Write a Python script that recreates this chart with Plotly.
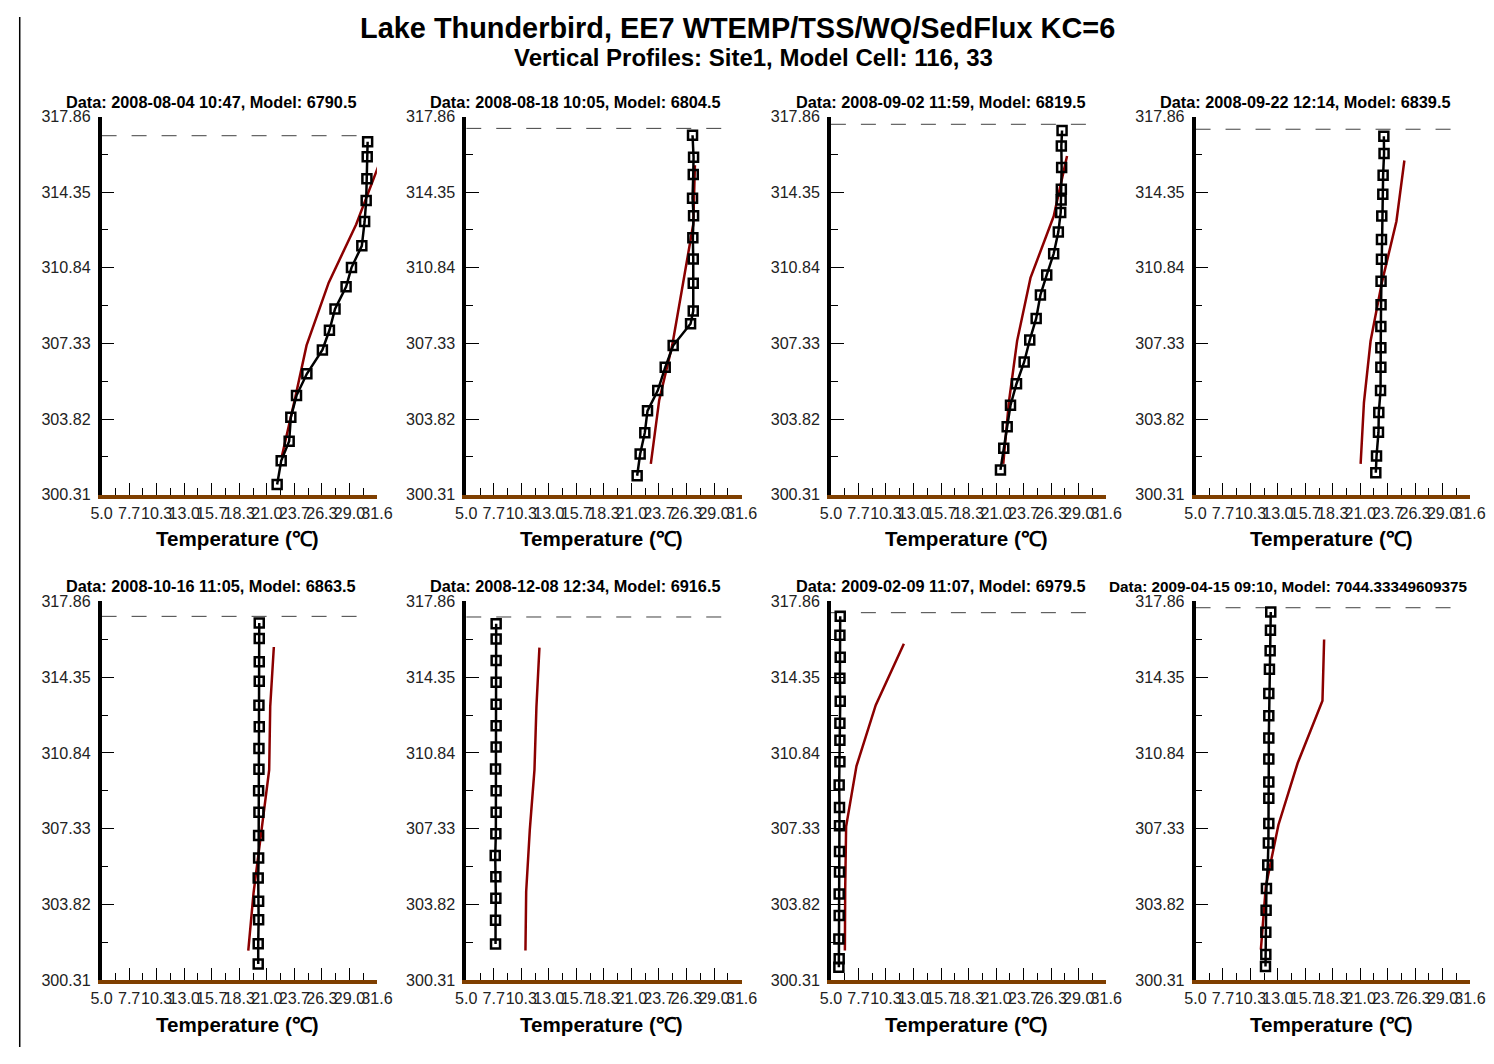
import plotly.graph_objects as go

# ---------------- data ----------------
main_title = "Lake Thunderbird, EE7 WTEMP/TSS/WQ/SedFlux KC=6"
sub_title = "Vertical Profiles: Site1, Model Cell: 116, 33"
x_title = "Temperature (\u2103)"

panel_titles = [
    "Data: 2008-08-04 10:47, Model: 6790.5",
    "Data: 2008-08-18 10:05, Model: 6804.5",
    "Data: 2008-09-02 11:59, Model: 6819.5",
    "Data: 2008-09-22 12:14, Model: 6839.5",
    "Data: 2008-10-16 11:05, Model: 6863.5",
    "Data: 2008-12-08 12:34, Model: 6916.5",
    "Data: 2009-02-09 11:07, Model: 6979.5",
    "Data: 2009-04-15 09:10, Model: 7044.33349609375",
]

x_tick_labels = ["5.0", "7.7", "10.3", "13.0", "15.7", "18.3", "21.0", "23.7", "26.3", "29.0", "31.6"]
y_tick_labels = ["300.31", "303.82", "307.33", "310.84", "314.35", "317.86"]

# water surface elevation per panel (dashed line)
surface = [316.97, 317.31, 317.50, 317.27, 317.17, 317.14, 317.34, 317.57]
surface_x = [5.0, 30.2]

# observed profiles (temperature, elevation)
obs_T1 = [30.70, 30.66, 30.63, 30.56, 30.41, 30.14, 29.14, 28.62, 27.55, 27.01, 26.33, 24.83, 23.83, 23.28, 23.12, 22.35, 21.96]
obs_E1 = [316.69, 315.99, 314.97, 313.96, 312.99, 311.86, 310.85, 309.96, 308.93, 307.94, 307.03, 305.92, 304.91, 303.90, 302.79, 301.88, 300.78]
obs_T2 = [26.86, 26.96, 26.93, 26.86, 26.96, 26.89, 26.93, 26.93, 26.93, 26.67, 24.99, 24.22, 23.50, 22.51, 22.25, 21.80, 21.51]
obs_E2 = [316.99, 315.97, 315.17, 314.07, 313.26, 312.24, 311.25, 310.12, 308.84, 308.24, 307.23, 306.22, 305.14, 304.20, 303.19, 302.20, 301.19]
obs_T3 = [27.33, 27.26, 27.29, 27.26, 27.24, 27.20, 26.97, 26.52, 25.85, 25.24, 24.83, 24.21, 23.67, 22.93, 22.35, 22.03, 21.70, 21.38]
obs_E3 = [317.21, 316.49, 315.49, 314.49, 313.99, 313.41, 312.50, 311.49, 310.51, 309.58, 308.49, 307.49, 306.47, 305.46, 304.46, 303.46, 302.46, 301.46]
obs_T4 = [23.25, 23.27, 23.18, 23.15, 23.05, 23.02, 23.02, 22.98, 22.98, 22.96, 22.96, 22.96, 22.93, 22.76, 22.73, 22.54, 22.47]
obs_E4 = [316.95, 316.15, 315.14, 314.25, 313.24, 312.15, 311.24, 310.21, 309.13, 308.11, 307.13, 306.22, 305.14, 304.12, 303.21, 302.10, 301.33]
obs_T5 = [20.23, 20.23, 20.23, 20.23, 20.20, 20.23, 20.20, 20.20, 20.17, 20.20, 20.17, 20.17, 20.13, 20.17, 20.17, 20.13, 20.13]
obs_E5 = [316.86, 316.14, 315.06, 314.16, 313.05, 312.05, 311.05, 310.08, 309.09, 308.09, 307.01, 305.97, 305.04, 303.96, 303.11, 301.99, 301.06]
obs_T6 = [7.89, 7.89, 7.89, 7.89, 7.89, 7.89, 7.89, 7.83, 7.89, 7.89, 7.86, 7.80, 7.86, 7.86, 7.83, 7.83]
obs_E6 = [316.83, 316.12, 315.12, 314.12, 313.10, 312.10, 311.11, 310.09, 309.09, 308.09, 307.09, 306.09, 305.10, 304.10, 303.08, 301.98]
obs_T7 = [5.90, 5.87, 5.90, 5.87, 5.90, 5.87, 5.87, 5.87, 5.80, 5.83, 5.83, 5.83, 5.83, 5.80, 5.80, 5.77, 5.80, 5.77]
obs_E7 = [317.18, 316.29, 315.27, 314.30, 313.24, 312.21, 311.43, 310.43, 309.35, 308.31, 307.46, 306.27, 305.32, 304.30, 303.30, 302.22, 301.30, 300.91]
obs_T8 = [12.29, 12.26, 12.23, 12.16, 12.10, 12.10, 12.10, 12.10, 12.10, 12.10, 12.10, 12.06, 12.00, 11.87, 11.84, 11.81, 11.81, 11.78]
obs_E8 = [317.37, 316.52, 315.57, 314.72, 313.59, 312.56, 311.53, 310.56, 309.49, 308.74, 307.57, 306.66, 305.65, 304.56, 303.55, 302.53, 301.50, 300.94]

# model profiles (KC=6 layer centres)
mod_T1 = [31.76, 29.59, 26.94, 24.80, 23.64, 22.41]
mod_E1 = [315.59, 312.85, 310.15, 307.24, 304.67, 302.08]
mod_T2 = [27.09, 26.93, 25.96, 24.90, 23.64, 22.83]
mod_E2 = [315.60, 312.86, 310.17, 307.25, 304.70, 301.74]
mod_T3 = [27.81, 26.52, 24.28, 22.99, 22.19, 21.65]
mod_E3 = [316.03, 313.23, 310.37, 307.45, 304.59, 301.74]
mod_T4 = [25.24, 24.47, 23.08, 21.96, 21.32, 21.00]
mod_E4 = [315.82, 313.00, 310.20, 307.43, 304.58, 301.74]
mod_T5 = [21.64, 21.29, 21.19, 20.45, 19.68, 19.17]
mod_E5 = [315.75, 312.98, 310.05, 307.27, 304.35, 301.68]
mod_T6 = [12.07, 11.78, 11.59, 11.14, 10.79, 10.72]
mod_E6 = [315.72, 312.98, 310.05, 307.27, 304.42, 301.68]
mod_T7 = [12.05, 9.33, 7.47, 6.47, 6.38, 6.35]
mod_E7 = [315.90, 313.05, 310.23, 307.43, 304.50, 301.68]
mod_T8 = [17.46, 17.30, 14.89, 13.03, 11.81, 11.33]
mod_E8 = [316.10, 313.26, 310.36, 307.50, 304.65, 301.72]

obs_T = [obs_T1, obs_T2, obs_T3, obs_T4, obs_T5, obs_T6, obs_T7, obs_T8]
obs_E = [obs_E1, obs_E2, obs_E3, obs_E4, obs_E5, obs_E6, obs_E7, obs_E8]
mod_T = [mod_T1, mod_T2, mod_T3, mod_T4, mod_T5, mod_T6, mod_T7, mod_T8]
mod_E = [mod_E1, mod_E2, mod_E3, mod_E4, mod_E5, mod_E6, mod_E7, mod_E8]

# ---------------- layout helpers ----------------
W, H = 1478, 1048          # figure size
SX, SY, PAD = 0.984, 0.985, 17.0   # observed page->picture mapping


def px(X):
    v = (X / SX - PAD) / W
    return min(max(v, 0.0), 1.0)


def py(Y):
    v = 1 - (Y / SY - PAD) / H
    return min(max(v, 0.0), 1.0)


col_x0 = [99.5, 465.0, 830.5, 1196.0]
axis_w = 276.0
row_top = [116.5, 602.5]
row_bot = [495.5, 982.0]

FONT = "Liberation Sans, Arial, Helvetica, sans-serif"
x_tickvals = [5.0 + 2.66 * i for i in range(len(x_tick_labels))]
x_minor = [5.0 + 1.33 + 2.66 * i for i in range(len(x_tick_labels) - 1)]
y_tickvals = [float(s) for s in y_tick_labels]
y_minor = [(y_tickvals[i] + y_tickvals[i + 1]) / 2 for i in range(len(y_tickvals) - 1)]

fig = go.Figure()
annotations = []
layout_axes = {}

for i in range(8):
    r, c = divmod(i, 4)
    n = i + 1
    xa = "x" if n == 1 else f"x{n}"
    ya = "y" if n == 1 else f"y{n}"
    x0 = col_x0[c]
    x1 = x0 + axis_w

    # surface dashed line
    fig.add_trace(go.Scatter(
        x=surface_x, y=[surface[i], surface[i]], xaxis=xa, yaxis=ya,
        mode="lines", line=dict(color="#404040", width=1, dash="15px,15px"),
        showlegend=False, hoverinfo="skip"))
    # model
    fig.add_trace(go.Scatter(
        x=mod_T[i], y=mod_E[i], xaxis=xa, yaxis=ya, mode="lines",
        line=dict(color="#8B0000", width=2.5), showlegend=False))
    # observed
    fig.add_trace(go.Scatter(
        x=obs_T[i], y=obs_E[i], xaxis=xa, yaxis=ya, mode="lines+markers",
        line=dict(color="black", width=2.5),
        marker=dict(symbol="square-open", size=9, color="black", line=dict(width=2.5, color="black")),
        showlegend=False))

    xkey = "xaxis" if n == 1 else f"xaxis{n}"
    ykey = "yaxis" if n == 1 else f"yaxis{n}"
    layout_axes[xkey] = dict(
        domain=[px(x0), px(x1)], anchor=ya, range=[5.0, 31.6],
        tickmode="array", tickvals=x_tickvals, ticktext=x_tick_labels, tickangle=0,
        ticks="inside", ticklen=12, tickwidth=1.3, tickcolor="black",
        minor=dict(tickmode="array", tickvals=x_minor, ticks="inside", ticklen=7,
                   tickwidth=1.3, tickcolor="black", showgrid=False),
        showline=True, linecolor="#7F3F00", linewidth=3.5, showgrid=False, zeroline=False,
        tickfont=dict(family=FONT, size=16.1, color="#222"), ticklabelstandoff=1,
    )
    layout_axes[ykey] = dict(
        domain=[py(row_bot[r]), py(row_top[r])], anchor=xa, range=[300.31, 317.86],
        tickmode="array", tickvals=y_tickvals, ticktext=y_tick_labels,
        ticks="inside", ticklen=13, tickwidth=1.3, tickcolor="black",
        minor=dict(tickmode="array", tickvals=y_minor, ticks="inside", ticklen=7,
                   tickwidth=1.3, tickcolor="black", showgrid=False),
        showline=True, linecolor="black", linewidth=3.5, showgrid=False, zeroline=False,
        tickfont=dict(family=FONT, size=16.1, color="#222"), ticklabelstandoff=4,
    )

    # panel title
    title = panel_titles[i]
    if len(title) > 40:
        tx, anchor, fsize = px(1494), "right", 15.3
    else:
        tx, anchor, fsize = px(x0 + 110), "center", 16.3
    annotations.append(dict(
        text=f"<b>{title}</b>", x=tx, y=py(row_top[r] - 15), xref="paper", yref="paper",
        xanchor=anchor, yanchor="middle", showarrow=False,
        font=dict(family=FONT, size=fsize, color="black")))
    # x-axis title
    annotations.append(dict(
        text=f"<b>{x_title}</b>", x=px(x0 + axis_w / 2 - 2), y=py(row_bot[r] + 44),
        xref="paper", yref="paper", xanchor="center", yanchor="middle", showarrow=False,
        font=dict(family=FONT, size=20.6, color="black")))

annotations.append(dict(
    text=f"<b>{main_title}</b>", x=px(737), y=py(28), xref="paper", yref="paper",
    xanchor="center", yanchor="middle", showarrow=False,
    font=dict(family=FONT, size=28.9, color="black")))
annotations.append(dict(
    text=f"<b>{sub_title}</b>", x=px(753), y=py(57), xref="paper", yref="paper",
    xanchor="center", yanchor="middle", showarrow=False,
    font=dict(family=FONT, size=24, color="black")))

shapes = [
    dict(type="line", xref="paper", yref="paper", x0=0.0005, x1=0.0005, y0=0, y1=1,
         line=dict(color="black", width=1.5)),
]

fig.update_layout(
    width=W, height=H, margin=dict(l=0, r=0, t=0, b=0),
    paper_bgcolor="white", plot_bgcolor="white",
    annotations=annotations, shapes=shapes, showlegend=False,
    font=dict(family=FONT),
    **layout_axes,
)

fig.write_html("out.html")
